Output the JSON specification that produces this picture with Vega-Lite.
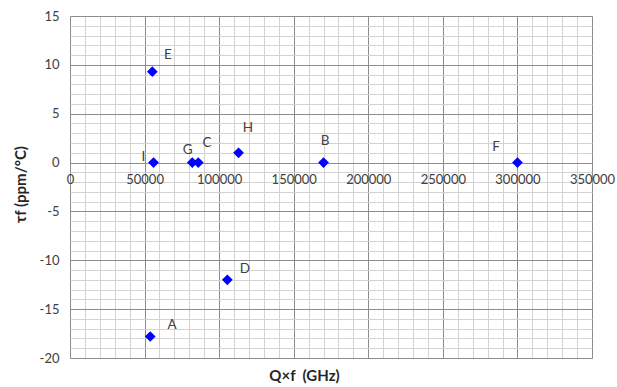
{
  "$schema": "https://vega.github.io/schema/vega-lite/v6.json",
  "width": 522,
  "height": 342,
  "autosize": "none",
  "padding": {"left": 70, "top": 16, "right": 25, "bottom": 29},
  "background": "white",
  "config": {"view": {"stroke": null}, "font": "Lato"},
  "datasets": {
    "points": [
      {"name": "A", "qf": 53800, "tf": -17.8},
      {"name": "B", "qf": 170000, "tf": 0},
      {"name": "C", "qf": 86000, "tf": 0},
      {"name": "D", "qf": 105500, "tf": -12},
      {"name": "E", "qf": 55200, "tf": 9.3},
      {"name": "F", "qf": 300000, "tf": 0},
      {"name": "G", "qf": 82000, "tf": 0},
      {"name": "H", "qf": 113000, "tf": 1},
      {"name": "I", "qf": 56000, "tf": 0}
    ],
    "labels": [
      {"name": "A", "qf": 68400, "tf": -16.6},
      {"name": "B", "qf": 171000, "tf": 2.25},
      {"name": "C", "qf": 91900, "tf": 2.05},
      {"name": "D", "qf": 117300, "tf": -10.85},
      {"name": "E", "qf": 65700, "tf": 11.05},
      {"name": "F", "qf": 285600, "tf": 1.64},
      {"name": "G", "qf": 78900, "tf": 1.33},
      {"name": "H", "qf": 119300, "tf": 3.58},
      {"name": "I", "qf": 49150, "tf": 0.61}
    ]
  },
  "encoding": {
    "x": {
      "field": "qf", "type": "quantitative",
      "scale": {"domain": [0, 350000], "nice": false, "zero": false},
      "axis": {
        "values": [0,10000,20000,30000,40000,50000,60000,70000,80000,90000,100000,110000,120000,130000,140000,150000,160000,170000,180000,190000,200000,210000,220000,230000,240000,250000,260000,270000,280000,290000,300000,310000,320000,330000,340000,350000],
        "labelExpr": "datum.value % 50000 === 0 ? '' + datum.value : ''",
        "labelOverlap": false,
        "labelFlush": false,
        "ticks": false,
        "domain": false,
        "offset": -195,
        "labelPadding": 10,
        "labelFontSize": 13,
        "labelColor": "#404040",
        "grid": true,
        "gridColor": {"condition": {"test": "datum.value % 50000 === 0", "value": "#8c8c8c"}, "value": "#d2d2d2"},
        "title": "Q×f\u00a0\u00a0(GHz)",
        "titleFontSize": 15,
        "titleFontWeight": "bold",
        "titleColor": "#262626",
        "titleX": 234,
        "titleY": 212,
        "titleAlign": "center",
        "titleBaseline": "middle"
      }
    },
    "y": {
      "field": "tf", "type": "quantitative",
      "scale": {"domain": [-20, 15], "nice": false, "zero": false},
      "axis": {
        "values": [-20,-19,-18,-17,-16,-15,-14,-13,-12,-11,-10,-9,-8,-7,-6,-5,-4,-3,-2,-1,0,1,2,3,4,5,6,7,8,9,10,11,12,13,14,15],
        "labelExpr": "datum.value % 5 === 0 ? '' + datum.value : ''",
        "labelOverlap": false,
        "labelFlush": false,
        "ticks": false,
        "domain": false,
        "labelPadding": 11,
        "labelFontSize": 13,
        "labelColor": "#404040",
        "grid": true,
        "gridColor": {"condition": {"test": "datum.value % 5 === 0", "value": "#8c8c8c"}, "value": "#d2d2d2"},
        "title": "τf (ppm/°C)",
        "titleFontSize": 15,
        "titleFontWeight": "bold",
        "titleColor": "#262626",
        "titleAngle": -90,
        "titleX": -50,
        "titleY": 168,
        "titleAlign": "center",
        "titleBaseline": "middle"
      }
    }
  },
  "layer": [
    {
      "data": {"name": "points"},
      "mark": {"type": "point", "shape": "diamond", "filled": true, "color": "#0000FF", "opacity": 1, "size": 115}
    },
    {
      "data": {"name": "labels"},
      "mark": {"type": "text", "fontSize": 13.5, "color": "#404040", "align": "center", "baseline": "middle"},
      "encoding": {"text": {"field": "name"}}
    }
  ]
}
